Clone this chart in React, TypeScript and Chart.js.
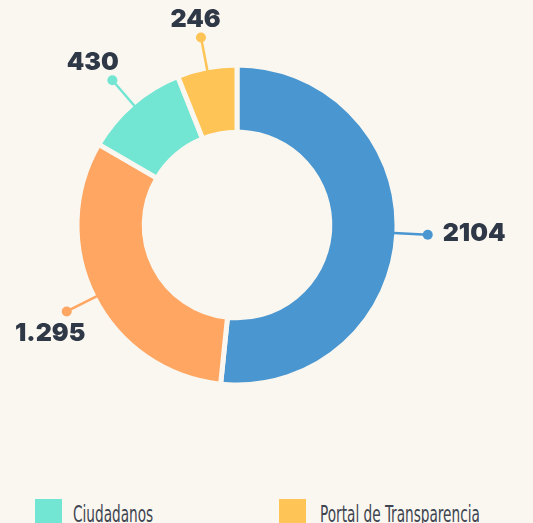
import React, { useEffect, useRef } from "react";
import { Chart, registerables } from "chart.js";

Chart.register(...registerables);

const categories = ["Canal A", "Canal B", "Ciudadanos", "Portal de Transparencia"];
const values = [2104, 1295, 430, 246];
const valueLabels = ["2104", "1.295", "430", "246"];
const colors = ["#4a96d0", "#ffa662", "#72e5d3", "#fec456"];
const legendOrder = [2, 3, 0, 1];

const BG = "#faf7f0";
const TEXT = "#2f3846";

const outLabels = {
  id: "outLabels",
  afterDatasetsDraw(chart: any) {
    const ctx = chart.ctx;
    const meta = chart.getDatasetMeta(0);
    ctx.save();
    ctx.font = "900 25px Inter, 'DejaVu Sans', sans-serif";
    meta.data.forEach((arc: any, i: number) => {
      const p = arc.getProps(["x", "y", "startAngle", "endAngle", "outerRadius"], true);
      const a = (p.startAngle + p.endAngle) / 2;
      const c = Math.cos(a);
      const s = Math.sin(a);
      const r0 = p.outerRadius - 3;
      const r1 = p.outerRadius + 31;
      const x0 = p.x + c * r0;
      const y0 = p.y + s * r0;
      const x1 = p.x + c * r1;
      const y1 = p.y + s * r1;
      ctx.strokeStyle = colors[i];
      ctx.lineWidth = 2.5;
      ctx.beginPath();
      ctx.moveTo(x0, y0);
      ctx.lineTo(x1, y1);
      ctx.stroke();
      ctx.fillStyle = colors[i];
      ctx.beginPath();
      ctx.arc(x1, y1, 5, 0, Math.PI * 2);
      ctx.fill();
      const txt = valueLabels[i];
      const w = ctx.measureText(txt).width;
      let tx: number;
      let ty: number;
      if (Math.abs(s) < 0.3) {
        tx = x1 + c * (w / 2 + 15);
        ty = y1 - 1;
      } else {
        tx = x1 + c * (w / 2 + 4);
        ty = y1 + Math.sign(s) * (s > 0 ? 22 : 18);
      }
      tx = Math.max(tx, 15 + w / 2);
      tx = Math.min(tx, chart.width - 15 - w / 2);
      ty = Math.max(ty, 12);
      ctx.fillStyle = TEXT;
      ctx.textAlign = "center";
      ctx.textBaseline = "middle";
      ctx.fillText(txt, tx, ty);
    });
    ctx.restore();
  },
};

export default function App() {
  const ref = useRef<HTMLCanvasElement | null>(null);

  useEffect(() => {
    if (!ref.current) return;
    const chart = new Chart(ref.current, {
      type: "doughnut",
      data: {
        labels: categories,
        datasets: [
          {
            data: values,
            backgroundColor: colors,
            borderColor: BG,
            borderWidth: 5,
            hoverOffset: 0,
          },
        ],
      },
      options: {
        responsive: false,
        animation: false,
        radius: 160,
        cutout: "58%",
        layout: { padding: { left: 10, right: 69, top: 10, bottom: 30 } },
        plugins: {
          legend: { display: false },
          tooltip: { enabled: false },
        },
      } as any,
      plugins: [outLabels],
    });
    return () => chart.destroy();
  }, []);

  return (
    <div
      style={{
        position: "fixed",
        left: 0,
        top: 0,
        width: 533,
        height: 523,
        overflow: "hidden",
        background: BG,
      }}
    >
      <canvas
        ref={ref}
        width={533}
        height={470}
        style={{ position: "absolute", left: 0, top: 0, width: 533, height: 470 }}
      />
      {legendOrder.map((idx, k) => {
        const col = k % 2;
        const row = Math.floor(k / 2);
        return (
          <div
            key={idx}
            style={{
              position: "absolute",
              left: col === 0 ? 35 : 279,
              top: 499 + row * 40,
              display: "flex",
              alignItems: "flex-start",
              whiteSpace: "nowrap",
            }}
          >
            <div style={{ width: 27, height: 27, background: colors[idx], flex: "none" }} />
            <span
              style={{
                marginLeft: col === 0 ? 11 : 14,
                fontFamily: "'DejaVu Sans Condensed', 'Liberation Sans Narrow', sans-serif",
                fontSize: 23,
                lineHeight: "30px",
                color: "#3e4551",
                display: "inline-block",
                transform: "scaleX(0.66)",
                transformOrigin: "left center",
              }}
            >
              {categories[idx]}
            </span>
          </div>
        );
      })}
    </div>
  );
}
